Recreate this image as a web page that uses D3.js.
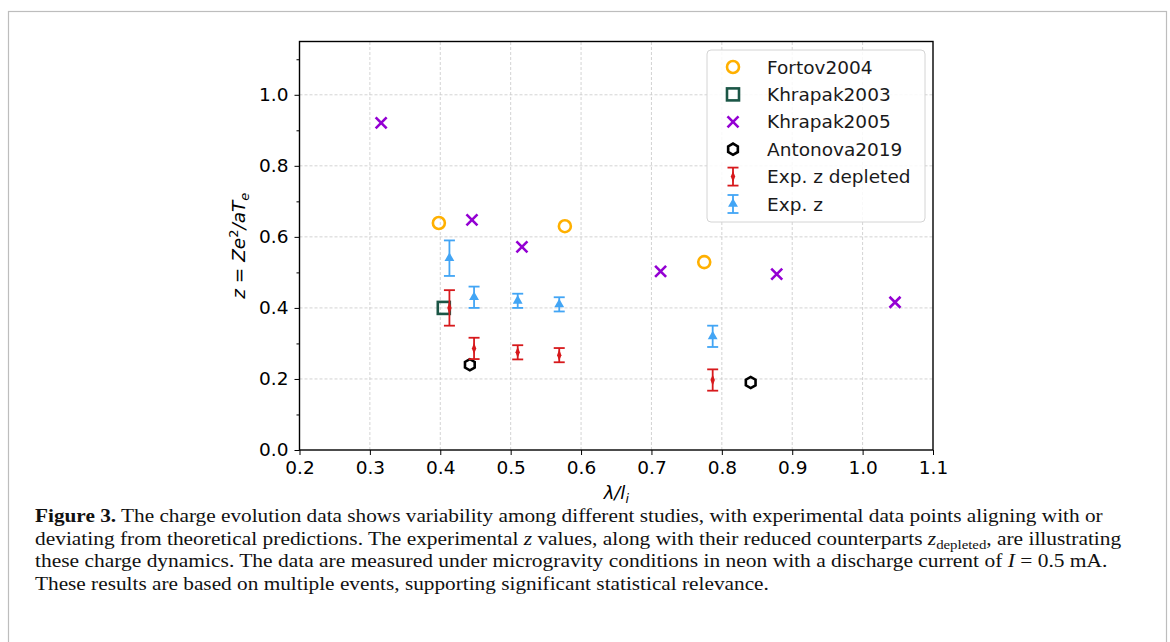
<!DOCTYPE html>
<html>
<head>
<meta charset="utf-8">
<script src="https://cdn.jsdelivr.net/npm/d3@7"></script>
<style>
  body { margin: 0; background: #fff; }
  svg { display: block; }
</style>
</head>
<body>
<svg id="chart"></svg>
<script>
// Data
const fortovX = [0.398, 0.577, 0.775];
const fortovZ = [0.639, 0.630, 0.529];

const khrapak2003X = [0.405];
const khrapak2003Z = [0.400];

const khrapak2005X = [0.316, 0.445, 0.516, 0.713, 0.878, 1.046];
const khrapak2005Z = [0.921, 0.648, 0.572, 0.503, 0.495, 0.416];

const antonovaX = [0.442, 0.841];
const antonovaZ = [0.240, 0.190];

const expX = [0.413, 0.448, 0.510, 0.569, 0.787];
const expDepZ = [0.400, 0.286, 0.275, 0.267, 0.197];
const expDepErr = [0.050, 0.030, 0.020, 0.020, 0.030];
const expZ = [0.540, 0.430, 0.420, 0.410, 0.320];
const expErr = [0.050, 0.030, 0.020, 0.020, 0.030];

const xTicks = [0.2, 0.3, 0.4, 0.5, 0.6, 0.7, 0.8, 0.9, 1.0, 1.1];
const yTicks = [0.0, 0.2, 0.4, 0.6, 0.8, 1.0];
const yMinorTicks = [0.1, 0.3, 0.5, 0.7, 0.9, 1.1];

const legendLabels = ["Fortov2004", "Khrapak2003", "Khrapak2005", "Antonova2019", "Exp. z depleted", "Exp. z"];

const captionLines = [
  [{t: "Figure 3.", b: true}, {t: " The charge evolution data shows variability among different studies, with experimental data points aligning with or"}],
  [{t: "deviating from theoretical predictions. The experimental "}, {t: "z", i: true}, {t: " values, along with their reduced counterparts "}, {t: "z", i: true}, {t: "depleted", sub: true}, {t: ", are illustrating"}],
  [{t: "these charge dynamics. The data are measured under microgravity conditions in neon with a discharge current of "}, {t: "I", i: true}, {t: " = 0.5 mA."}],
  [{t: "These results are based on multiple events, supporting significant statistical relevance."}]
];
// right end of each caption line in the figure
const captionEnds = [1104, 1122, 1108, 769];

const colors = {
  fortov: "#FFB000",
  khrapak2003: "#1B5646",
  khrapak2005: "#9400D3",
  antonova: "#000000",
  dep: "#D7191C",
  exp: "#42A5F5"
};

const width = 1170;
const height = 642;
const margin = {left: 299.5, right: 237, top: 41.5, bottom: 192};

const svg = d3.select("#chart")
    .attr("width", width)
    .attr("height", height);

// outer figure frame
svg.append("rect")
    .attr("x", 8.5).attr("y", 11.5)
    .attr("width", 1158).attr("height", 650)
    .attr("fill", "none")
    .attr("stroke", "#bdbdbd")
    .attr("stroke-width", 1.2);

const x = d3.scaleLinear().domain([0.2, 1.1]).range([margin.left, width - margin.right]);
const y = d3.scaleLinear().domain([0, 1.15]).range([height - margin.bottom, margin.top]);

const font = "DejaVu Sans, sans-serif";

// grid
const grid = svg.append("g");
grid.selectAll(".gx").data(xTicks.slice(1, -1)).enter().append("line")
    .attr("x1", d => x(d)).attr("x2", d => x(d))
    .attr("y1", y(0)).attr("y2", y(1.15))
    .attr("stroke", "#c8c8c8").attr("stroke-width", 0.8).attr("stroke-dasharray", "3,2");
grid.selectAll(".gy").data(yTicks.slice(1)).enter().append("line")
    .attr("x1", x(0.2)).attr("x2", x(1.1))
    .attr("y1", d => y(d)).attr("y2", d => y(d))
    .attr("stroke", "#c8c8c8").attr("stroke-width", 0.8).attr("stroke-dasharray", "3,2");

// axes
const xAxis = svg.append("g")
    .attr("transform", `translate(0,${y(0)})`)
    .call(d3.axisBottom(x).tickValues(xTicks).tickFormat(d3.format(".1f")).tickSize(5).tickPadding(6));
const yAxis = svg.append("g")
    .attr("transform", `translate(${x(0.2)},0)`)
    .call(d3.axisLeft(y).tickValues(yTicks).tickFormat(d3.format(".1f")).tickSize(5).tickPadding(6));
const yMinor = svg.append("g")
    .attr("transform", `translate(${x(0.2)},0)`)
    .call(d3.axisLeft(y).tickValues(yMinorTicks).tickFormat("").tickSize(3));
yMinor.select(".domain").remove();

[xAxis, yAxis, yMinor].forEach(g => {
  g.selectAll("text").attr("font-family", font).attr("font-size", 18.5).attr("fill", "#000");
  g.selectAll("line").attr("stroke", "#000").attr("stroke-width", 1);
  g.select(".domain").remove();
});

// box spines
svg.append("rect")
    .attr("x", x(0.2)).attr("y", y(1.15))
    .attr("width", x(1.1) - x(0.2)).attr("height", y(0) - y(1.15))
    .attr("fill", "none").attr("stroke", "#000").attr("stroke-width", 1.4);

// axis labels
svg.append("text")
    .attr("x", (x(0.2) + x(1.1)) / 2).attr("y", 499)
    .attr("text-anchor", "middle")
    .attr("font-family", font).attr("font-size", 18).attr("font-style", "italic")
    .html('λ/<tspan>l</tspan><tspan font-size="12.5" dy="4">i</tspan>');

const yl = svg.append("text")
    .attr("transform", `translate(245,${(y(0) + y(1.15)) / 2}) rotate(-90)`)
    .attr("text-anchor", "middle")
    .attr("font-family", font).attr("font-size", 18.5);
yl.append("tspan").attr("font-style", "italic").text("z");
yl.append("tspan").text(" = ");
yl.append("tspan").attr("font-style", "italic").text("Ze");
yl.append("tspan").attr("font-size", 13).attr("dy", -7).text("2");
yl.append("tspan").attr("dy", 7).attr("font-style", "italic").text("/aT");
yl.append("tspan").attr("font-size", 13).attr("dy", 4).attr("font-style", "italic").text("e");

// marker helpers
const hexPath = r => d3.range(6).map(i => {
  const a = Math.PI / 6 + i * Math.PI / 3;
  return [r * Math.cos(a), r * Math.sin(a)];
});
function drawMarker(g, type, color) {
  if (type === "circle") {
    g.append("circle").attr("r", 6).attr("fill", "none").attr("stroke", color).attr("stroke-width", 2.6);
  } else if (type === "square") {
    g.append("rect").attr("x", -6).attr("y", -6).attr("width", 12).attr("height", 12)
      .attr("fill", "none").attr("stroke", color).attr("stroke-width", 2.6);
  } else if (type === "x") {
    g.append("path").attr("d", "M-5.5,-5.5L5.5,5.5M-5.5,5.5L5.5,-5.5").attr("stroke", color).attr("stroke-width", 2.6);
  } else if (type === "hex") {
    g.append("path").attr("d", d3.line()(hexPath(5.6)) + "Z")
      .attr("fill", "none").attr("stroke", color).attr("stroke-width", 2.6);
  }
}
function drawErr(g, type, color, half) {
  g.append("line").attr("x1", 0).attr("x2", 0).attr("y1", -half).attr("y2", half)
    .attr("stroke", color).attr("stroke-width", 1.8);
  g.append("line").attr("x1", -5.5).attr("x2", 5.5).attr("y1", -half).attr("y2", -half)
    .attr("stroke", color).attr("stroke-width", 1.8);
  g.append("line").attr("x1", -5.5).attr("x2", 5.5).attr("y1", half).attr("y2", half)
    .attr("stroke", color).attr("stroke-width", 1.8);
  if (type === "diamond") {
    g.append("path").attr("d", d3.symbol(d3.symbolDiamond, 30)()).attr("fill", color)
      .attr("transform", "scale(0.75,1.1)");
  } else {
    g.append("path").attr("d", d3.symbol(d3.symbolTriangle, 42)()).attr("fill", color);
  }
}

const plot = svg.append("g");

function scatter(xs, zs, type, color) {
  plot.selectAll(null).data(xs.map((d, i) => [d, zs[i]])).enter().append("g")
    .attr("transform", d => `translate(${x(d[0])},${y(d[1])})`)
    .each(function() { drawMarker(d3.select(this), type, color); });
}
function errSeries(xs, zs, errs, type, color) {
  plot.selectAll(null).data(xs.map((d, i) => [d, zs[i], errs[i]])).enter().append("g")
    .attr("transform", d => `translate(${x(d[0])},${y(d[1])})`)
    .each(function(d) { drawErr(d3.select(this), type, color, y(0) - y(d[2])); });
}

scatter(fortovX, fortovZ, "circle", colors.fortov);
scatter(khrapak2003X, khrapak2003Z, "square", colors.khrapak2003);
scatter(khrapak2005X, khrapak2005Z, "x", colors.khrapak2005);
scatter(antonovaX, antonovaZ, "hex", colors.antonova);
errSeries(expX, expDepZ, expDepErr, "diamond", colors.dep);
errSeries(expX, expZ, expErr, "triangle", colors.exp);

// legend
const legend = svg.append("g").attr("transform", "translate(707,50)");
legend.append("rect")
    .attr("width", 218).attr("height", 172).attr("rx", 4)
    .attr("fill", "#fff").attr("fill-opacity", 0.85)
    .attr("stroke", "#d4d4d4").attr("stroke-width", 1);
const legendTypes = [
  ["circle", colors.fortov], ["square", colors.khrapak2003], ["x", colors.khrapak2005],
  ["hex", colors.antonova], ["diamond", colors.dep], ["triangle", colors.exp]
];
legendLabels.forEach((lab, i) => {
  const row = legend.append("g").attr("transform", `translate(26,${17 + i * 27.4})`);
  const [t, c] = legendTypes[i];
  if (t === "diamond" || t === "triangle") drawErr(row, t, c, 9);
  else drawMarker(row, t, c);
  row.append("text").attr("x", 34).attr("y", 6.5)
    .attr("font-family", font).attr("font-size", 18.5).attr("fill", "#1a1a1a").text(lab);
});

// caption
const capX = 35;
const cap = svg.append("g").attr("font-family", "Liberation Serif, serif").attr("font-size", 19.5).attr("fill", "#111");
captionLines.forEach((parts, i) => {
  const by = 522 + i * 22.6;
  const t = cap.append("text").attr("x", 0).attr("y", 0);
  parts.forEach((p, j) => {
    const s = t.append("tspan").text(p.t);
    if (p.b) s.attr("font-weight", "bold");
    if (p.i) s.attr("font-style", "italic");
    if (p.sub) s.attr("font-size", 13.5).attr("dy", 4);
    if (j > 0 && parts[j - 1].sub) s.attr("dy", -4);
  });
  const w = t.node().getBBox().width;
  const k = (captionEnds[i] - capX) / w;
  t.attr("transform", `translate(${capX},${by}) scale(${k},1)`);
});
</script>
</body>
</html>
